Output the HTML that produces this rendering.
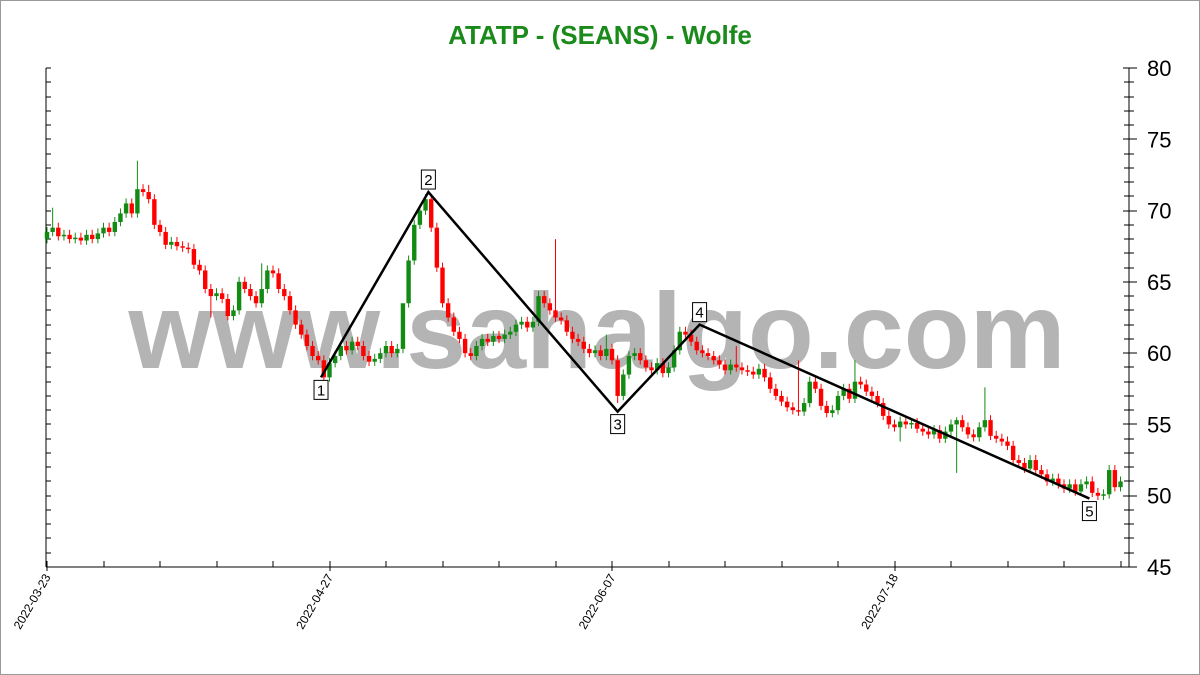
<!DOCTYPE html>
<html><head><meta charset="utf-8"><style>
body{margin:0;background:#fff;}
svg{display:block;font-family:"Liberation Sans",Arial,sans-serif;}
</style></head><body>
<svg id="chart" width="1200" height="675" viewBox="0 0 1200 675" xmlns="http://www.w3.org/2000/svg">
<rect x="0.5" y="0.5" width="1199" height="674" fill="#fff" stroke="#999"/>
<text x="600" y="44" text-anchor="middle" font-size="26" font-weight="bold" fill="#1a8a1a">ATATP - (SEANS) - Wolfe</text>
<text x="597" y="368" text-anchor="middle" font-size="108" font-weight="bold" fill="#b4b4b4" textLength="937" lengthAdjust="spacingAndGlyphs">www.sahalgo.com</text>
<g id="axes"></g>
<g id="candles"></g>
<g id="wolfe"></g>
</svg>
<script>
const closes=[68.5,68.8,68.2,68.3,68.0,68.1,67.9,68.3,68.0,68.4,
68.8,68.5,69.2,69.8,70.5,69.8,71.5,71.3,70.8,69.0,
68.5,67.6,67.8,67.5,67.4,67.3,66.2,65.8,64.5,64.0,
64.2,63.8,62.6,63.0,65.0,64.5,64.0,63.5,64.5,65.8,
65.6,64.5,64.0,63.0,62.0,61.3,60.5,59.8,59.5,58.3,
59.3,59.8,60.5,60.2,60.8,60.5,59.8,59.4,59.6,60.0,
60.5,60.0,60.3,63.5,66.5,69.0,70.0,70.8,68.8,66.0,
63.5,62.5,61.5,61.0,60.0,59.8,60.5,61.0,60.8,61.2,
61.0,61.3,61.5,62.0,62.2,61.8,62.2,64.0,63.5,63.0,
62.5,62.3,61.5,61.0,60.8,60.3,60.0,60.2,59.8,60.3,
59.5,57.0,58.5,59.8,60.0,59.5,59.0,58.8,59.3,58.6,
59.0,60.2,61.5,61.3,60.8,60.2,60.0,59.8,59.5,59.2,
58.8,59.2,59.0,58.8,58.7,58.5,58.9,58.3,57.5,57.0,
56.6,56.2,56.0,55.9,56.5,58.0,57.5,56.3,55.8,56.0,
57.0,57.5,56.8,58.0,57.8,57.3,57.0,56.5,55.6,55.0,
54.8,55.2,55.0,55.1,54.7,54.5,54.3,54.6,54.0,54.5,
55.0,55.3,54.8,54.3,54.1,54.8,55.3,54.2,54.0,53.8,
53.5,52.5,52.3,51.9,52.5,51.8,51.5,51.0,51.2,50.8,
50.5,50.8,50.3,50.8,51.0,50.2,50.0,50.1,51.8,50.6,51.0];
const firstOpen=68.0;
const bigWickIdx=[1,16,18,38,63,90,99,122,133,143,161,166];
const bigWickHigh=[70.2,73.5,71.8,66.3,61,68,61.3,60.5,59.5,59.5,55.5,57.6];
const wickLowIdx=[29,101,151,161];
const wickLowVal=[62.5,56.5,53.8,51.6];
const yTicks=[45,50,55,60,65,70,75,80];
const xLabelIdx=[0,50,100,150];
const xLabels=["2022-03-23","2022-04-27","2022-06-07","2022-07-18"];
const wolfeIdx=[48.5,67.5,101,115.5,184.5];
const wolfePrice=[58.3,71.3,55.9,62.0,49.8];
const wolfeLabels=["1","2","3","4","5"];
const wolfeAbove=[false,true,false,true,false];

const NS="http://www.w3.org/2000/svg";
const L=46,R=1129,T=68,B=567,pMin=45,pMax=80;
const X=i=>47+i*5.65;
const Y=p=>B-(p-pMin)*(B-T)/(pMax-pMin);
function mk(tag,attrs,parent){const e=document.createElementNS(NS,tag);for(const k in attrs)e.setAttribute(k,attrs[k]);parent.appendChild(e);return e;}
const ax=document.getElementById('axes');
let e;
e=mk('line',{x1:L,y1:T,x2:L,y2:B,stroke:'#000'},ax);


e=mk('line',{x1:R,y1:T,x2:R,y2:B,stroke:'#000'},ax);


e=mk('line',{x1:L,y1:B,x2:R,y2:B,stroke:'#000'},ax);


for(let p=pMin;p<=pMax;p++){
 const y=Y(p)+0.5|0;const major=p%5===0;
 mk('line',{x1:L,y1:y,x2:L+5,y2:y,stroke:'#000'},ax);
 mk('line',{x1:R-(major?6:5),y1:y,x2:R+(major?8:5),y2:y,stroke:'#000'},ax);
}
yTicks.forEach(v=>{
 const t=mk('text',{x:1147,y:Y(v)+8,'font-size':22,fill:'#000'},ax);t.textContent=v;
 
 
});
for(let i=0;i<=190;i+=10){const x=Math.round(X(i));mk('line',{x1:x,y1:B-6,x2:x,y2:B+(i%50===0?4:0),stroke:'#000'},ax);}
xLabelIdx.forEach((i,k)=>{
 const x=X(i);const t=mk('text',{x:x+4,y:B+10,'font-size':12,fill:'#000','text-anchor':'end',transform:`rotate(-60 ${x+4} ${B+10})`},ax);
 t.textContent=xLabels[k];
 
 
});
const cg=document.getElementById('candles');
closes.forEach((c,i)=>{
 const o=i===0?firstOpen:closes[i-1];
 let hi=Math.max(o,c)+0.35,lo=Math.min(o,c)-0.3;
 const bi=bigWickIdx.indexOf(i);if(bi>=0)hi=bigWickHigh[bi];
 const li=wickLowIdx.indexOf(i);if(li>=0)lo=wickLowVal[li];
 const col=c>=o?'#138a13':'#f00';
 const x=X(i);
 const g=mk('g',{},cg);
 
 
 mk('line',{x1:x,y1:Y(hi),x2:x,y2:Y(lo),stroke:col,'stroke-width':1},g);
 const yt=Y(Math.max(o,c)),yb=Y(Math.min(o,c));
 mk('rect',{x:x-2.2,y:yt,width:4.4,height:Math.max(1.5,yb-yt),fill:col},g);
});
const wg=document.getElementById('wolfe');
let pts=wolfeIdx.map((i,k)=>X(i)+','+Y(wolfePrice[k])).join(' ');
e=mk('polyline',{points:pts,fill:'none',stroke:'#000','stroke-width':2.5},wg);


wolfeIdx.forEach((i,k)=>{
 const x=X(i),y=Y(wolfePrice[k]);
 const by=wolfeAbove[k]?y-22:y+3;
 const g=mk('g',{},wg);
 
 
 mk('rect',{x:x-7,y:by,width:14,height:19,fill:'#fff',stroke:'#000'},g);
 const t=mk('text',{x:x,y:by+15,'font-size':15,'text-anchor':'middle',fill:'#000'},g);t.textContent=wolfeLabels[k];
});
</script>
</body></html>
